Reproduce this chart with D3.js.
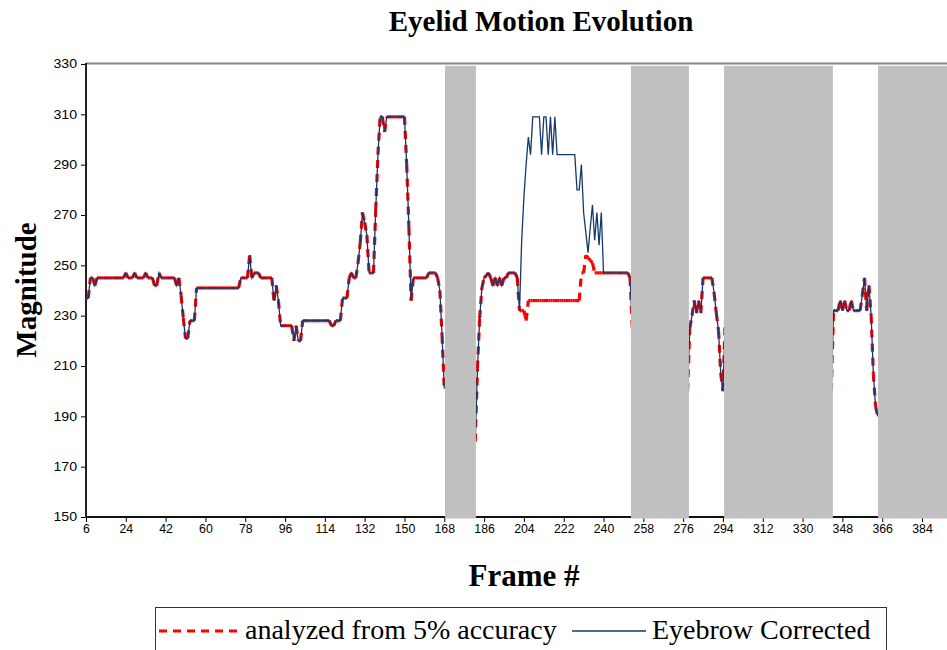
<!DOCTYPE html>
<html>
<head>
<meta charset="utf-8">
<script src="https://cdn.jsdelivr.net/npm/d3@7"></script>
<style>
  body { margin: 0; background: #fff; }
  svg { display: block; }
</style>
</head>
<body>
<svg id="chart" width="947" height="650"></svg>
<script>
// Axis labels
const xTickLabels = [6, 24, 42, 60, 78, 96, 114, 132, 150, 168, 186, 204, 222, 240, 258, 276, 294, 312, 330, 348, 366, 384];
const yTickLabels = [150, 170, 190, 210, 230, 250, 270, 290, 310, 330];

// First frame of each recorded run (one value per frame follows)
const runStartFrames = [6, 182, 278, 343];

// Eyebrow Corrected, frames 6-168
const eyebrowRun1 = [
  237, 237, 245, 245, 242, 245, 245, 245, 245, 245, 245, 245, 245, 245, 245, 245, 245, 245,
  247, 245, 245, 245, 247, 245, 245, 245, 245, 247, 245, 245, 245, 242, 242, 247,
  245, 245, 245, 245, 245, 245, 245, 242, 245, 238, 229, 221, 221, 228, 228, 228,
  241, 241, 241, 241, 241, 241, 241, 241, 241, 241, 241, 241, 241, 241, 241, 241, 241, 241, 241, 241,
  245, 245, 245, 245, 254, 245, 247, 247, 247, 245, 245, 245, 245, 245, 245,
  236, 242, 236, 226, 226, 226, 226, 226, 226,
  220, 226, 220, 220, 228, 228, 228, 228, 228, 228, 228, 228, 228, 228, 228, 228, 228,
  226, 226, 228, 228, 228, 237, 237, 237, 245, 247, 245, 245,
  251, 259, 271, 267, 262, 247, 247, 247, 272, 294, 309, 309, 303,
  309, 309, 309, 309, 309, 309, 309, 309, 309,
  290, 265, 236, 245, 245, 245, 245, 245, 245, 245, 247, 247, 247, 247, 245, 240, 222, 201
];
// Eyebrow Corrected, frames 182-253
const eyebrowRun2 = [
  180, 209, 229, 241, 245, 246, 247, 245, 242, 245, 242, 245, 242, 245, 245,
  247, 247, 247, 247, 245, 232,
  260, 277, 290, 301, 294, 309, 309, 309, 309, 294, 309, 309, 294, 309, 294, 309, 294,
  294, 294, 294, 294, 294, 294, 294, 294,
  280, 280, 290, 271, 263, 255, 265, 274, 260, 271, 258, 271,
  247, 247, 247, 247, 247, 247, 247, 247, 247, 247, 247, 247, 245, 225
];
// Eyebrow Corrected, frames 278-295
const eyebrowRun3 = [200, 225, 230, 236, 231, 236, 231, 245, 245, 245, 245, 245, 239, 231, 224, 207, 200, 228];
// Eyebrow Corrected, frames 343-364
const eyebrowRun4 = [200, 232, 232, 232, 236, 232, 236, 232, 232, 236, 232, 232, 232, 232, 238, 245, 232, 242, 230, 207, 194, 190];

// analyzed from 5% accuracy, frames 6-168
const accuracyRun1 = [
  237, 237, 245, 245, 242, 245, 245, 245, 245, 245, 245, 245, 245, 245, 245, 245, 245, 245,
  247, 245, 245, 245, 247, 245, 245, 245, 245, 247, 245, 245, 245, 242, 242, 247,
  245, 245, 245, 245, 245, 245, 245, 242, 245, 238, 229, 221, 221, 228, 228, 228,
  241, 241, 241, 241, 241, 241, 241, 241, 241, 241, 241, 241, 241, 241, 241, 241, 241, 241, 241, 241,
  245, 245, 245, 245, 254, 245, 247, 247, 247, 245, 245, 245, 245, 245, 245,
  236, 242, 236, 226, 226, 226, 226, 226, 226,
  220, 226, 220, 220, 228, 228, 228, 228, 228, 228, 228, 228, 228, 228, 228, 228, 228,
  226, 226, 228, 228, 228, 237, 237, 237, 245, 247, 245, 245,
  251, 259, 271, 267, 262, 247, 247, 247, 272, 294, 309, 309, 303,
  309, 309, 309, 309, 309, 309, 309, 309, 309,
  290, 265, 236, 245, 245, 245, 245, 245, 245, 245, 247, 247, 247, 247, 245, 240, 222, 201
];
// analyzed from 5% accuracy, frames 182-253
const accuracyRun2 = [
  180, 209, 229, 241, 245, 246, 247, 245, 242, 245, 242, 245, 242, 245, 245,
  247, 247, 247, 247, 245, 232,
  232, 232, 228,
  236, 236, 236, 236, 236, 236, 236, 236, 236, 236, 236, 236,
  236, 236, 236, 236, 236, 236, 236, 236, 236, 236, 236, 236,
  247, 247, 254, 253, 252, 251,
  247, 247, 247, 247, 247, 247, 247, 247, 247, 247, 247, 247, 247, 247, 247, 247, 245, 225
];
// analyzed from 5% accuracy, frames 278-295
const accuracyRun3 = [200, 225, 230, 236, 231, 236, 231, 245, 245, 245, 245, 245, 239, 231, 224, 207, 200, 228];
// analyzed from 5% accuracy, frames 343-364
const accuracyRun4 = [200, 232, 232, 232, 236, 232, 236, 232, 232, 236, 232, 232, 232, 232, 238, 245, 232, 242, 230, 207, 194, 190];

// Frame ranges covered by grey bands
const bandFromFrame = [168.3, 252.4, 294.5, 364.1];
const bandToFrame = [182.3, 278.6, 343.7, 405];
const bandTopValue = 329.3;

const seriesNames = ["analyzed from 5% accuracy", "Eyebrow Corrected"];

const eyebrowRuns = [eyebrowRun1, eyebrowRun2, eyebrowRun3, eyebrowRun4];
const accuracyRuns = [accuracyRun1, accuracyRun2, accuracyRun3, accuracyRun4];

const toPoints = runs => runs.map((vals, r) => vals.map((v, i) => ({ f: runStartFrames[r] + i, v })));

const svg = d3.select("#chart");
const plotLeft = 86, plotRight = 947, plotTop = 64, plotBottom = 517;

const x = d3.scaleLinear().domain([6, 384]).range([86, 922]);
const y = d3.scaleLinear().domain([150, 330]).range([plotBottom, plotTop]);

const RED = "#ff0000";
const NAVY = "#15396b";

// Plot frame: grey top edge
svg.append("line")
  .attr("x1", plotLeft).attr("x2", plotRight + 10)
  .attr("y1", plotTop - 0.5).attr("y2", plotTop - 0.5)
  .attr("stroke", "#858585").attr("stroke-width", 2);

// X axis
const xAxis = svg.append("g")
  .attr("transform", `translate(0,${plotBottom})`)
  .call(d3.axisBottom(x).tickValues(xTickLabels).tickSize(5).tickPadding(2).tickSizeOuter(0));
xAxis.select(".domain").remove();
xAxis.selectAll(".tick line").attr("stroke", "#000").attr("stroke-width", 1);
xAxis.selectAll(".tick text")
  .attr("fill", "#000")
  .style("font-family", "'Liberation Sans', Arial, sans-serif")
  .style("font-size", "12.3px");
svg.append("line")
  .attr("x1", plotLeft - 1).attr("x2", plotRight + 10)
  .attr("y1", plotBottom).attr("y2", plotBottom)
  .attr("stroke", "#111").attr("stroke-width", 2);

// Y axis
const yAxis = svg.append("g")
  .attr("transform", `translate(${plotLeft},0)`)
  .call(d3.axisLeft(y).tickValues(yTickLabels).tickSize(5).tickPadding(4).tickSizeOuter(0));
yAxis.select(".domain").remove();
yAxis.selectAll(".tick line").attr("stroke", "#000").attr("stroke-width", 1);
yAxis.selectAll(".tick text")
  .attr("fill", "#000")
  .attr("x", null)
  .attr("transform", "translate(-9,0) scale(1.15,1)")
  .style("font-family", "'Liberation Sans', Arial, sans-serif")
  .style("font-size", "12.3px");
svg.append("line")
  .attr("x1", plotLeft).attr("x2", plotLeft)
  .attr("y1", plotTop - 1).attr("y2", plotBottom + 1)
  .attr("stroke", "#222").attr("stroke-width", 2);

// Red dashed series: each frame-to-frame step is its own dashed stroke
const redSteps = [];
toPoints(accuracyRuns).forEach(run => {
  for (let i = 0; i < run.length - 1; i++) redSteps.push([run[i], run[i + 1]]);
});
svg.append("g").selectAll("line")
  .data(redSteps)
  .join("line")
  .attr("x1", d => x(d[0].f)).attr("y1", d => y(d[0].v))
  .attr("x2", d => x(d[1].f)).attr("y2", d => y(d[1].v))
  .attr("stroke", RED)
  .attr("stroke-width", 3.2)
  .attr("stroke-dasharray", "8,6")
  .attr("stroke-linecap", "butt");

// Navy solid series
const line = d3.line().x(d => x(d.f)).y(d => y(d.v));
svg.append("g").selectAll("path")
  .data(toPoints(eyebrowRuns))
  .join("path")
  .attr("d", line)
  .attr("fill", "none")
  .attr("stroke", NAVY)
  .attr("stroke-width", 1.3)
  .attr("stroke-linejoin", "miter");

// Grey bands drawn over the traces
svg.append("g").selectAll("rect")
  .data(bandFromFrame.map((f, i) => ({ from: f, to: bandToFrame[i] })))
  .join("rect")
  .attr("x", d => x(d.from))
  .attr("width", d => x(d.to) - x(d.from))
  .attr("y", y(bandTopValue))
  .attr("height", plotBottom + 1.5 - y(bandTopValue))
  .attr("fill", "#c0c0c0");

// Titles
const serif = "'Liberation Serif', 'Times New Roman', serif";
svg.append("text")
  .attr("x", 541).attr("y", 31)
  .attr("text-anchor", "middle")
  .style("font-family", serif).style("font-weight", "bold").style("font-size", "29px")
  .text("Eyelid Motion Evolution");
svg.append("text")
  .attr("x", 524).attr("y", 586)
  .attr("text-anchor", "middle")
  .style("font-family", serif).style("font-weight", "bold").style("font-size", "31px")
  .text("Frame #");
svg.append("text")
  .attr("transform", "translate(36,290) rotate(-90)")
  .attr("text-anchor", "middle")
  .style("font-family", serif).style("font-weight", "bold").style("font-size", "29px")
  .text("Magnitude");

// Legend
const legend = svg.append("g");
legend.append("rect")
  .attr("x", 155.5).attr("y", 607.5)
  .attr("width", 731).attr("height", 70)
  .attr("fill", "#fff").attr("stroke", "#333").attr("stroke-width", 1);
legend.append("line")
  .attr("x1", 159).attr("x2", 243).attr("y1", 631).attr("y2", 631)
  .attr("stroke", RED).attr("stroke-width", 3.2).attr("stroke-dasharray", "8,6");
legend.append("text")
  .attr("x", 245).attr("y", 639)
  .style("font-family", serif).style("font-size", "28px")
  .text(seriesNames[0]);
legend.append("line")
  .attr("x1", 572).attr("x2", 646).attr("y1", 631).attr("y2", 631)
  .attr("stroke", NAVY).attr("stroke-width", 1.3);
legend.append("text")
  .attr("x", 652).attr("y", 639)
  .style("font-family", serif).style("font-size", "28px")
  .text(seriesNames[1]);
</script>
</body>
</html>
